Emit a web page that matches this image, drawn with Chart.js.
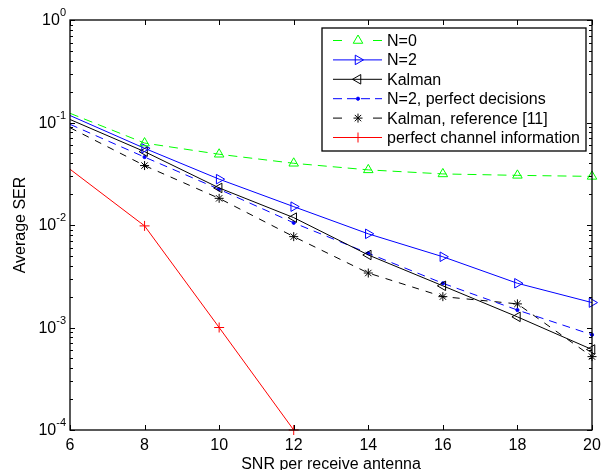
<!DOCTYPE html>
<html lang="en">
<head>
  <meta charset="UTF-8">
  <title>Average SER</title>
  <script src="https://cdn.jsdelivr.net/npm/chart.js"></script>
  <style>
    body { margin: 0; background: #fff; }
    #box { position: relative; width: 611px; height: 470px; }
  </style>
</head>
<body>
  <div id="box"><canvas id="grafico"></canvas></div>
<script>
  // dados
  var snr = [6, 8, 10, 12, 14, 16, 18, 20]
  var serN0 = [0.123, 0.063, 0.049, 0.040, 0.0345, 0.0315, 0.0305, 0.0298]
  var serN2 = [0.117, 0.056, 0.028, 0.0151, 0.0082, 0.0049, 0.0027, 0.00175]
  var serKalman = [0.107, 0.052, 0.023, 0.0118, 0.0051, 0.00255, 0.00127, 0.00061]
  var serN2Perfeito = [0.096, 0.046, 0.0223, 0.0105, 0.0053, 0.0027, 0.00148, 0.00085]
  var serKalmanRef = [0.089, 0.038, 0.0182, 0.0077, 0.0034, 0.0020, 0.0017, 0.00052]
  var serCanal = [0.035, 0.0098, 0.001, 0.0001, null, null, null, null]
  var xTicks = [6, 8, 10, 12, 14, 16, 18, 20]
  var yExpoentes = [0, -1, -2, -3, -4]

  var fonte = 'Liberation Sans, Arial, Helvetica, sans-serif'

  function serie(label, valores, cor, tracejado, estilo, rotacao, raio, legDash) {
    return {
      label: label,
      data: snr.map(function (x, i) { return { x: x, y: valores[i] } }),
      borderColor: cor,
      backgroundColor: cor,
      borderWidth: 1,
      borderDash: tracejado,
      pointStyle: estilo,
      rotation: rotacao,
      pointRadius: snr.map(function (x, i) { return i == 0 ? 0 : raio }),
      pointHoverRadius: 0,
      pointBorderColor: cor,
      pointBackgroundColor: estilo == 'circle' ? cor : 'rgba(0,0,0,0)',
      pointBorderWidth: 1,
      tension: 0,
      spanGaps: false,
      clip: false,
      legDash: legDash
    }
  }

  var datasets = [
    serie('N=0', serN0, '#00ff00', [9, 6], 'triangle', 0, 5.5, [9, 31]),
    serie('N=2', serN2, '#0000ff', [], 'triangle', 90, 5.5, []),
    serie('Kalman', serKalman, '#000000', [], 'triangle', -90, 5.5, []),
    serie('N=2, perfect decisions', serN2Perfeito, '#0000ff', [8, 6], 'circle', 0, 1.6, [9, 5]),
    serie('Kalman, reference [11]', serKalmanRef, '#000000', [7, 7], 'star', 0, 4.5, [9, 31]),
    serie('perfect channel information', serCanal, '#ff0000', [], 'cross', 0, 5, [])
  ]

  // moldura, ticks internos, rótulos 10^n, títulos e legenda estilo MATLAB
  var moldura = {
    id: 'moldura',
    afterDraw: function (chart) {
      var ctx = chart.ctx
      var a = chart.chartArea
      var sx = chart.scales.x
      var sy = chart.scales.y
      ctx.save()
      ctx.strokeStyle = '#000'
      ctx.lineWidth = 1

      // ticks do eixo x (baixo e cima)
      ctx.beginPath()
      xTicks.forEach(function (v) {
        var px = Math.round(sx.getPixelForValue(v)) + 0.5
        ctx.moveTo(px, a.bottom); ctx.lineTo(px, a.bottom - 5)
        ctx.moveTo(px, a.top); ctx.lineTo(px, a.top + 5)
      })
      // ticks do eixo y (esquerda e direita), maiores e menores
      for (var e = -4; e <= 0; e++) {
        for (var k = 1; k <= 9; k++) {
          var v = k * Math.pow(10, e)
          if (v > 1) break
          var py = Math.round(sy.getPixelForValue(v)) + 0.5
          var len = k == 1 ? 5 : 3
          ctx.moveTo(a.left, py); ctx.lineTo(a.left + len, py)
          ctx.moveTo(a.right, py); ctx.lineTo(a.right - len, py)
        }
      }
      ctx.stroke()

      ctx.lineWidth = 1.3
      ctx.strokeRect(a.left, a.top, a.right - a.left, a.bottom - a.top)

      // rótulos do eixo y
      ctx.fillStyle = '#000'
      ctx.textBaseline = 'middle'
      ctx.textAlign = 'right'
      yExpoentes.forEach(function (ex) {
        var py = sy.getPixelForValue(Math.pow(10, ex))
        var sup = String(ex)
        ctx.font = '11px ' + fonte
        var w = ctx.measureText(sup).width
        ctx.fillText(sup, 66, py - 7)
        ctx.font = '16px ' + fonte
        ctx.fillText('10', 66 - w, py + 1)
      })

      // títulos
      ctx.font = '16px ' + fonte
      ctx.textAlign = 'center'
      ctx.fillText('SNR per receive antenna', (a.left + a.right) / 2, 465)
      ctx.save()
      ctx.translate(21, (a.top + a.bottom) / 2)
      ctx.rotate(-Math.PI / 2)
      ctx.fillText('Average SER', 0, 0)
      ctx.restore()

      // legenda
      var lx = 322, ly = 28, lw = 264, lh = 123
      ctx.fillStyle = '#fff'
      ctx.fillRect(lx, ly, lw, lh)
      ctx.lineWidth = 1.3
      ctx.strokeStyle = '#000'
      ctx.strokeRect(lx, ly, lw, lh)
      chart.data.datasets.forEach(function (ds, i) {
        var cy = 40.5 + i * 19.4
        ctx.save()
        ctx.strokeStyle = ds.borderColor
        ctx.lineWidth = 1
        ctx.setLineDash(ds.legDash)
        ctx.beginPath()
        ctx.moveTo(333, cy); ctx.lineTo(382, cy)
        ctx.stroke()
        ctx.setLineDash([])
        ctx.fillStyle = ds.pointBackgroundColor
        Chart.helpers.drawPoint(ctx, {
          pointStyle: ds.pointStyle,
          rotation: ds.rotation,
          radius: ds.pointRadius[1],
          borderWidth: 1
        }, 358, cy)
        ctx.restore()
        ctx.fillStyle = '#000'
        ctx.textAlign = 'left'
        ctx.font = '16px ' + fonte
        ctx.fillText(ds.label, 387, cy + 1)
      })
      ctx.restore()
    }
  }

  new Chart(document.getElementById('grafico'), {
    type: 'line',
    data: { datasets: datasets },
    options: {
      responsive: true,
      maintainAspectRatio: false,
      animation: false,
      layout: { padding: { left: 0, right: 19, top: 20, bottom: 0 } },
      plugins: { legend: { display: false }, tooltip: { enabled: false } },
      scales: {
        x: {
          type: 'linear',
          min: 6,
          max: 20,
          afterFit: function (s) { s.height = 40 },
          afterBuildTicks: function (s) { s.ticks = xTicks.map(function (v) { return { value: v } }) },
          grid: { display: false, drawTicks: false },
          border: { display: false },
          ticks: { color: '#000', font: { family: fonte, size: 16 }, padding: 6, maxRotation: 0 }
        },
        y: {
          type: 'logarithmic',
          min: 0.0001,
          max: 1,
          afterFit: function (s) { s.width = 70 },
          grid: { display: false, drawTicks: false },
          border: { display: false },
          ticks: { display: false }
        }
      }
    },
    plugins: [moldura]
  })
</script>
</body>
</html>
